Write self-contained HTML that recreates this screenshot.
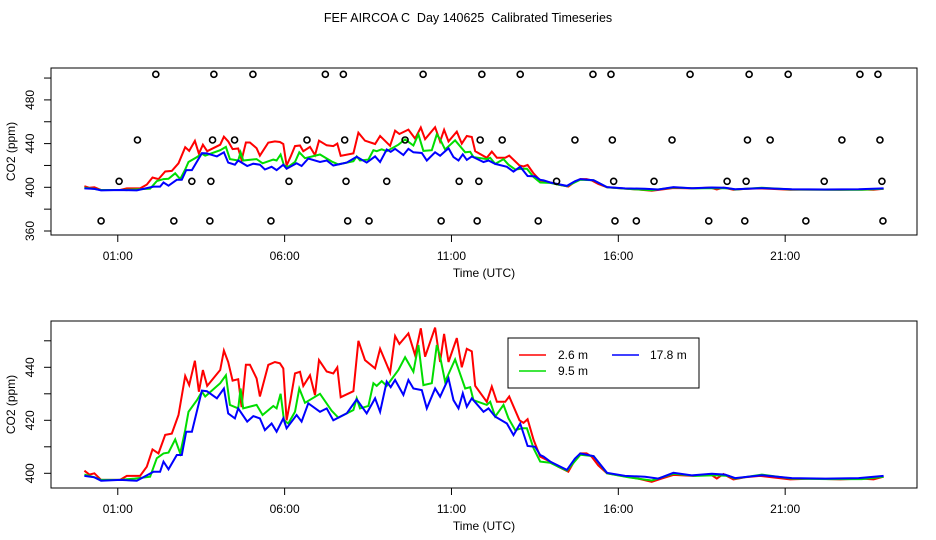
<!DOCTYPE html>
<html><head><meta charset="utf-8"><style>
html,body{margin:0;padding:0;background:#fff;}
svg{display:block;font-family:"Liberation Sans",sans-serif;}
</style></head><body>
<svg id="chart" width="936" height="540" viewBox="0 0 936 540">
<text x="468" y="22" font-size="12.5" text-anchor="middle" style="white-space:pre">FEF AIRCOA C  Day 140625  Calibrated Timeseries</text>
<g id="topPanel"></g>
<g id="botPanel"></g>
</svg>
<script>
const xTickHours=[1,6,11,16,21];
const xTickLabels=["01:00","06:00","11:00","16:00","21:00"];
const topYTicks=[360,380,400,420,440,460,480,500];
const topYLabels=[360,400,440,480];
const botYTicks=[400,410,420,430,440,450];
const botYLabels=[400,420,440];
const redT=[0,0.15,0.3,0.5,1.07,1.27,1.67,1.87,2.04,2.22,2.42,2.62,2.82,3.02,3.14,3.31,3.43,3.55,3.68,4.07,4.18,4.31,4.44,4.61,4.71,4.84,4.96,5.16,5.26,5.51,5.71,5.86,5.96,6.06,6.18,6.31,6.46,6.56,6.76,6.91,7.03,7.26,7.46,7.58,7.68,8.06,8.21,8.41,8.71,8.86,9.16,9.31,9.44,9.71,9.91,10.08,10.21,10.51,10.66,10.78,10.91,11.16,11.31,11.46,11.61,11.71,12.06,12.21,12.36,12.61,12.73,13.04,13.16,13.28,13.46,13.66,13.96,14.2,14.5,14.7,14.86,15.05,15.2,15.4,15.66,16.25,16.6,17.0,17.3,17.65,18.25,18.75,18.95,19.15,19.45,19.8,20.25,20.6,21.15,21.8,22.65,23.3,23.65,23.95];
const redV=[401,399.5,400,397.5,397.5,399,399,402.5,409,407.5,414.5,415,422,436.7,433.3,442.5,430.8,439,433,439,446.3,442,435,435.5,425,441,441,435.8,429,440.9,442,441.5,439.6,420,428,437.7,438.3,433,437,429.5,442.7,438.4,437.7,440,428.7,431,450,442.7,439.6,447,438,451.8,448.8,452.8,444.6,454.7,444,455,442,452.6,442,451,440,447,446,433,427,432.7,427,427,429,420,419,420.4,412.6,406.3,404.4,402.5,400.6,405,407.5,407.5,406.3,403,400,398.7,398,396.8,398,399.4,399,399.7,398,399.7,397.7,398.5,399,398.5,397.7,398,397.7,398,397.7,398.7];
const greenT=[0,0.3,0.5,1.07,1.5,1.97,2.17,2.37,2.52,2.72,2.87,3.02,3.12,3.37,3.52,3.62,4.07,4.24,4.36,4.61,4.68,4.76,5.16,5.34,5.66,5.76,5.88,5.98,6.11,6.31,6.44,6.61,7.06,7.41,7.61,8.06,8.16,8.26,8.51,8.66,8.76,8.91,9.06,9.41,9.61,9.86,10.01,10.16,10.41,10.56,10.66,10.81,11.11,11.41,11.56,11.66,12.06,12.16,12.31,12.56,12.71,12.91,13.11,13.26,13.46,13.66,13.96,14.2,14.46,14.86,15.26,15.66,16.3,17.0,17.65,18.3,18.9,19.3,19.5,20.3,21.2,22.3,23.3,23.95];
const greenV=[399.5,398.5,397.5,397.5,398,398.7,405.7,407.5,407.8,412.8,407.5,416.3,423.2,427.6,430.8,429,434,437,425.8,424.5,432,424.5,425.8,422,425.4,424.5,430,420,418.8,423.2,432,426.6,430,423.6,421,423.9,428.3,424.5,425.4,434,433,434.8,433,439,443.8,438.3,448.4,433.3,434,448.4,444,434.6,443,432,432.5,427.6,425.8,427,421.4,425.8,420.7,416.3,417,417,409.4,404.4,404,402.5,401,407,406.5,400,398.5,397.3,399.8,399,399.3,399,398,399.5,398,397.8,397.8,398.7];
const blueT=[0,0.3,0.5,1.07,1.57,2.07,2.27,2.37,2.52,2.77,2.92,3.05,3.22,3.52,3.67,3.97,4.18,4.31,4.51,4.61,4.88,5.06,5.26,5.41,5.61,5.76,5.96,6.06,6.36,6.51,6.71,7.06,7.26,7.46,7.86,8.16,8.46,8.71,8.86,9.06,9.18,9.31,9.56,9.71,9.86,10.11,10.26,10.51,10.66,10.91,11.06,11.21,11.34,11.46,11.61,11.96,12.11,12.31,12.66,12.86,13.06,13.28,13.51,13.66,13.76,13.96,14.46,14.7,14.86,15.26,15.66,16.2,16.8,17.2,17.65,18.2,18.8,19.2,19.5,20.3,21.2,22.2,23.2,23.95];
const blueV=[399,398.5,397.2,397.5,397.2,400.6,400.6,404.4,401.5,406.9,406.9,415.7,415.7,431.2,431,428.3,432,422.6,420.7,424.5,419.5,421.6,420.7,416.3,418.8,415.7,420.7,417,422,419.5,426.4,423.2,424.5,420,422.6,427.9,422.6,428.3,423.2,434.6,432.5,435.2,429.6,435.2,432,431.4,424.5,432,428.9,435.8,427.6,424.5,430.2,425.1,428.3,423.2,424.5,421.4,418.8,414.4,418.8,410.3,410,406.9,406.3,404.4,401.3,405.5,407.5,406.5,400.2,399,398.7,398,400.2,399.2,399.8,399.5,398.2,399.3,398.2,398,398.2,399];
const flag503=[2.14,3.88,5.05,7.22,7.76,10.15,11.91,13.06,15.24,15.78,18.15,19.92,21.09,23.24,23.78];
const flag443=[1.59,3.84,4.50,6.67,7.80,9.61,11.86,12.52,14.70,15.82,17.61,19.87,20.55,22.70,23.84];
const flag405=[1.04,3.22,3.79,6.13,7.84,9.06,11.23,11.82,14.15,15.86,17.07,19.26,19.83,22.17,23.90];
const flag369=[0.50,2.68,3.76,5.59,7.89,8.53,10.69,11.77,13.60,15.90,16.54,18.71,19.79,21.62,23.93];
const flagRows=[[flag503,503.4],[flag443,443.3],[flag405,405.5],[flag369,369.2]];

const NS="http://www.w3.org/2000/svg";
function mk(parent,tag,attrs,text){const e=document.createElementNS(NS,tag);for(const k in attrs)e.setAttribute(k,attrs[k]);if(text!==undefined)e.textContent=text;parent.appendChild(e);return e;}
const xs=h=>84.4+h*33.37;
const topY=v=>187.3-(v-400)*1.0925;
const botY=v=>473.3-(v-400)*2.65;

function panel(g,box,yFn,yTicks,yLabels,series,pfx){
  const r=mk(g,'rect',{x:box.x0,y:box.y0,width:box.x1-box.x0,height:box.y1-box.y0,fill:'none',stroke:'#000','stroke-width':1});
  
  
  xTickHours.forEach((h,i)=>{
    const t=mk(g,'line',{x1:xs(h),x2:xs(h),y1:box.y1,y2:box.y1+7,stroke:'#000'});
    
    
    const l=mk(g,'text',{x:xs(h),y:box.y1+25,'font-size':12,'text-anchor':'middle'},xTickLabels[i]);
    
    
  });
  yTicks.forEach(v=>{
    const t=mk(g,'line',{x1:box.x0-7,x2:box.x0,y1:yFn(v),y2:yFn(v),stroke:'#000'});
    
    
  });
  yLabels.forEach(v=>{
    const l=mk(g,'text',{x:0,y:0,'font-size':12,'text-anchor':'middle',transform:`translate(34,${yFn(v)}) rotate(-90)`},String(v));
    
    
  });
  const xl=mk(g,'text',{x:484,y:box.y1+42,'font-size':12,'text-anchor':'middle'},'Time (UTC)');
  
  
  const yl=mk(g,'text',{x:0,y:0,'font-size':12,'text-anchor':'middle',transform:`translate(15,${(box.y0+box.y1)/2}) rotate(-90)`},'CO2 (ppm)');
  
  
  series.forEach(s=>{
    const d=s.t.map((h,i)=>(i?'L':'M')+xs(h).toFixed(1)+' '+yFn(s.v[i]).toFixed(1)).join(' ');
    const p=mk(g,'path',{d:d,fill:'none',stroke:s.c,'stroke-width':2,'stroke-linejoin':'miter'});
    
    
  });
}
const seriesList=[{t:redT,v:redV,c:'#ff0000',n:'2-6m'},{t:greenT,v:greenV,c:'#00dd00',n:'9-5m'},{t:blueT,v:blueV,c:'#0000ff',n:'17-8m'}];
const topG=document.getElementById('topPanel'),botG=document.getElementById('botPanel');
panel(topG,{x0:51,x1:917,y0:68,y1:235},topY,topYTicks,topYLabels,seriesList,'top');
flagRows.forEach(([hs,v])=>hs.forEach(h=>{
  const c=mk(topG,'circle',{cx:xs(h),cy:topY(v),r:3,fill:'none',stroke:'#000','stroke-width':1.6});
  
  
}));
panel(botG,{x0:51,x1:917,y0:321,y1:488},botY,botYTicks,botYLabels,seriesList,'bottom');
const lg=mk(botG,'g',{});


mk(lg,'rect',{x:508,y:338,width:191,height:50,fill:'#fff',stroke:'#000'});
const items=[[519,355,'#ff0000','2.6 m',558],[612,355,'#0000ff','17.8 m',650],[519,371,'#00dd00','9.5 m',558]];
items.forEach(([x,y,c,t,tx])=>{
  const e=mk(lg,'line',{x1:x,x2:x+27,y1:y,y2:y,stroke:c,'stroke-width':1.5});
  
  
  const l=mk(lg,'text',{x:tx,y:y+4,'font-size':12},t);
  
  
});
</script>
</body></html>
